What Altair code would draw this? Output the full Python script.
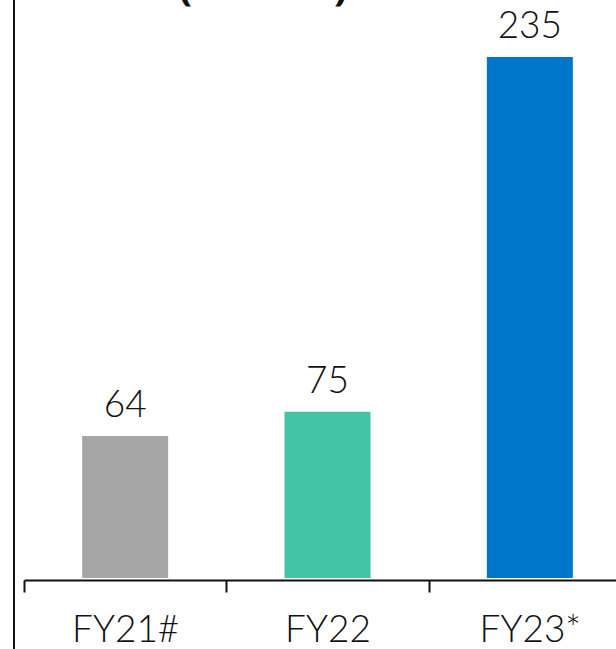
import altair as alt
import pandas as pd

categories = ["FY21#", "FY22", "FY23*"]
values = [64, 75, 235]
colors = ["#A6A6A6", "#45C3A5", "#0076CB"]
title_text = "(₹ Crore)"

df = pd.DataFrame({"cat": categories, "val": values, "color": colors})

FONT = "Lato"

x = alt.X(
    "cat:N",
    sort=categories,
    scale=alt.Scale(range=[0, 607], paddingInner=0, paddingOuter=0),
    axis=alt.Axis(
        title=None,
        labelAngle=0,
        labelFont=FONT,
        labelFontSize=37,
        labelFontWeight=300,
        labelColor="#111111",
        labelPadding=20,
        domainColor="#111111",
        domainWidth=2,
        tickColor="#111111",
        tickWidth=2,
        tickSize=12,
        tickBand="extent",
        offset=2,
        grid=False,
    ),
)
y = alt.Y(
    "val:Q",
    scale=alt.Scale(domain=[0, 260.7], nice=False),
    axis=None,
)

base = alt.Chart(df)

bars = base.mark_bar(width=alt.RelativeBandSize(0.425)).encode(
    x=x, y=y, color=alt.Color("color:N", scale=None)
)

labels = base.mark_text(
    font=FONT, fontSize=37, fontWeight=300, color="#111111",
    baseline="alphabetic", dy=-19,
).encode(x=x, y=y, text="val:Q")

left_line = alt.Chart(pd.DataFrame({"a": [0]})).mark_rule(
    color="#111111", strokeWidth=2
).encode(x=alt.value(-10), y=alt.value(-20), y2=alt.value(700))

title = alt.Chart(pd.DataFrame({"t": [title_text]})).mark_text(
    font="Noto Sans", fontSize=40, fontWeight="bold", color="#111111",
    baseline="alphabetic", align="center",
).encode(x=alt.value(239), y=alt.value(0), text="t:N")

chart = alt.layer(bars, labels, left_line, title).properties(
    width=592,
    height=578,
    autosize=alt.AutoSizeParams(type="none"),
    padding={"left": 24, "top": 0, "right": 0, "bottom": 71},
).configure_view(stroke=None)

chart.save("out.html", embed_options={"renderer": "svg", "actions": False})
